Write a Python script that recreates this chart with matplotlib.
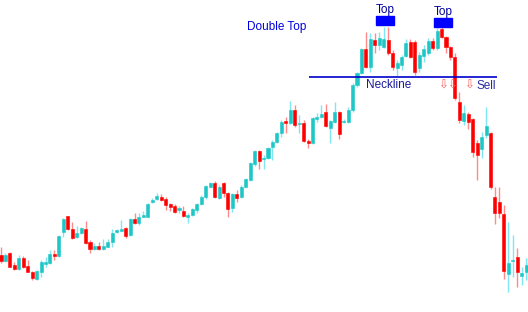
import matplotlib
matplotlib.use("Agg")
import matplotlib.pyplot as plt
from matplotlib.patches import Rectangle

plt.rcParams['font.family'] = ['Liberation Sans', 'DejaVu Sans']

# OHLC values (arbitrary price units)
opens = [56.7, 51.3, 58.7, 47, 42.7, 54.3, 46, 40.3, 32.7, 40.3,
         48.3, 48.7, 58.3, 56.3, 80.3, 95.7, 82.7, 74.7, 78.7, 83,
         69.7, 63, 66, 62.7, 65.3, 69.7, 79.7, 81.3, 83.7, 77,
         92.7, 89.3, 95.3, 95.3, 110, 112.7, 115.3, 112.7, 108, 106.3,
         102, 101, 95.3, 96.7, 102, 107.7, 114.7, 125.3, 129.3, 113.7,
         129.3, 118.7, 103.7, 117.7, 114.7, 125.3, 132, 148, 161.3, 152.7,
         154.3, 165.3, 170.3, 178.7, 191.3, 189.3, 202, 188, 189.3, 171.3,
         168.7, 193, 194.7, 200, 184.3, 190.3, 199.7, 189.7, 190.3, 202,
         227, 239.3, 262.7, 245.3, 272, 267, 265.3, 272, 258.7, 243.7,
         247, 256, 270, 270.3, 244, 256, 259, 271, 263.7, 283.3,
         274.7, 264.7, 255.3, 209.7, 191, 198, 192.7, 168.7, 162.7, 177,
         179.3, 114.7, 110.3, 98, 38, 51.3, 55.3, 36, 40.3]
highs = [65.3, 58.7, 59.7, 50.3, 57, 56, 52, 41.3, 42, 52,
         54.7, 62, 62, 77, 94.3, 96.3, 90.3, 86, 85.3, 91,
         72, 68.7, 70.3, 73.3, 73, 83, 82.7, 92, 84.7, 93.7,
         99.3, 98.7, 101.3, 109.3, 113.7, 118.7, 117.7, 115.3, 109.3, 108,
         106, 106, 98.7, 104.3, 109.3, 117, 127, 130.3, 131.3, 127,
         130.3, 120.3, 118.7, 122, 126.7, 133.7, 150.3, 162, 162, 157,
         165.3, 172, 180.3, 192, 194.7, 211.3, 207, 197, 192, 172.7,
         194.7, 198.7, 207, 208, 192, 210, 201.3, 192.7, 205.3, 228.7,
         240.3, 264.3, 280.3, 278.7, 278.7, 280.3, 285.3, 285.3, 262, 252,
         257, 273, 273, 272, 260, 267, 274, 274, 284, 289.3,
         276, 266, 258.7, 220.3, 207, 199.7, 194, 172, 180.3, 204.7,
         180.3, 125.3, 125.3, 107, 90.3, 77, 63.7, 45.3, 54]
lows = [49.3, 50.3, 44.7, 42, 42, 44.3, 39.7, 32, 32, 35.3,
        44.7, 48, 52, 55.3, 75.3, 82, 73, 73.7, 78, 68,
        59.3, 62, 61.7, 61.7, 64.7, 65, 78.7, 80.7, 73.7, 76.3,
        88, 87, 94.7, 94.7, 108.7, 112, 111.3, 102, 101.3, 98.7,
        98.7, 95.3, 88.7, 96, 99.3, 107, 112.7, 124.7, 113.7, 112.7,
        115.3, 94.7, 100.3, 110, 113.7, 124.7, 131.3, 146, 142.7, 142.7,
        153.3, 152, 169.3, 174.7, 178.7, 187.7, 185.3, 178.7, 169.7, 163.7,
        168, 190.3, 193.7, 184.7, 168.7, 189.3, 172.7, 188.7, 188.7, 200.3,
        225.3, 238, 243.7, 240.3, 258.7, 262, 263.7, 257, 242, 236,
        242, 255, 254, 237, 240, 250, 257, 262, 262, 273.7,
        258.7, 252, 212, 189, 187, 182.7, 155.3, 132, 153.7, 173.7,
        122.7, 88, 93.7, 32.7, 20.3, 34.7, 24.7, 27, 32]
closes = [51, 57, 45.3, 42.7, 53.7, 45.3, 40.3, 33.7, 41.3, 50.3,
          50, 57.7, 56.3, 76, 93.3, 83, 73.7, 78.7, 83.7, 69.3,
          63, 66.3, 62.7, 66.3, 69.7, 79.3, 82, 82.7, 76, 92.7,
          89, 95.3, 97, 107.7, 112, 116.3, 112, 107, 105.3, 100.3,
          103.7, 96, 97, 103, 108, 115.3, 126, 129.3, 114.7, 125.3,
          118.7, 103.3, 118, 114.3, 125.3, 132.7, 148.7, 161, 151, 154.3,
          163.7, 170, 178.7, 190.3, 188.7, 202, 187, 189.3, 171.3, 168.7,
          193.7, 195.3, 198, 186, 190.7, 200, 178, 191.3, 202, 227,
          239.3, 262.7, 245.3, 272.7, 267, 273.7, 272.7, 259.3, 245.3, 248.7,
          255.3, 269.3, 255, 240.3, 257, 263, 271, 264.3, 281.3, 275.3,
          264.7, 255.3, 213.7, 192, 198.7, 190.3, 160.3, 157, 174.7, 186,
          124.7, 98.7, 98.7, 41.3, 49.3, 52, 39.7, 38.7, 47]

neckline = 234.7

up_body = '#1fc6c6'
up_wick = '#7fe6f2'
down_body = '#ff0000'
down_wick = '#ff8a8a'

W, H = 528, 312
fig = plt.figure(figsize=(W / 100, H / 100), dpi=100)
ax = fig.add_axes([0, 0, 1, 1])
ax.set_axis_off()

step = 4.45
ax.set_xlim(-1 / step, (W - 1) / step)
ax.set_ylim(0, 312)

for i in range(len(opens)):
    o, h, l, c = opens[i], highs[i], lows[i], closes[i]
    up = c >= o
    wc = up_wick if up else down_wick
    bc = up_body if up else down_body
    ax.vlines(i, l, h, color=wc, linewidth=1.0, zorder=2)
    lo_b = min(o, c)
    hi_b = max(o, c)
    if hi_b - lo_b < 1.2:
        mid = (hi_b + lo_b) / 2
        lo_b, hi_b = mid - 0.6, mid + 0.6
    ax.add_patch(Rectangle((i - 0.34, lo_b), 0.68, hi_b - lo_b,
                           facecolor=bc, edgecolor=bc, linewidth=0.4, zorder=3))

# neckline
ax.hlines(neckline, 69.2, 111.5, color='#0000cc', linewidth=1.2, zorder=4)


def px(x, y):
    return x / W, 1 - y / H


fig.text(*px(277, 27), 'Double Top', color='#0000dd', fontsize=8.5,
         ha='center', va='center')

for bx, by, tx, ty in [(376, 16.5, 385, 10), (434, 18.3, 443, 11.7)]:
    fx, fy = px(bx, by + 8.4)
    fig.patches.append(Rectangle((fx, fy), 18 / W, 8.4 / H, facecolor='#0000ff',
                                 edgecolor='#0000ff', transform=fig.transFigure,
                                 zorder=5))
    fig.text(*px(tx, ty), 'Top', color='#000099', fontsize=8.5,
             ha='center', va='center')

fig.text(*px(389, 85), 'Neckline', color='#1a1a9a', fontsize=8.5,
         ha='center', va='center')
for ax_x in [443, 452, 469]:
    fig.text(*px(ax_x, 85), '\u21e9', color='#ff5a5a', fontsize=8.5,
             ha='center', va='center', family=['DejaVu Sans'])
fig.text(*px(486, 86), 'Sell', color='#2a2aa0', fontsize=8.5,
         ha='center', va='center')

fig.savefig('out.png', dpi=100)
